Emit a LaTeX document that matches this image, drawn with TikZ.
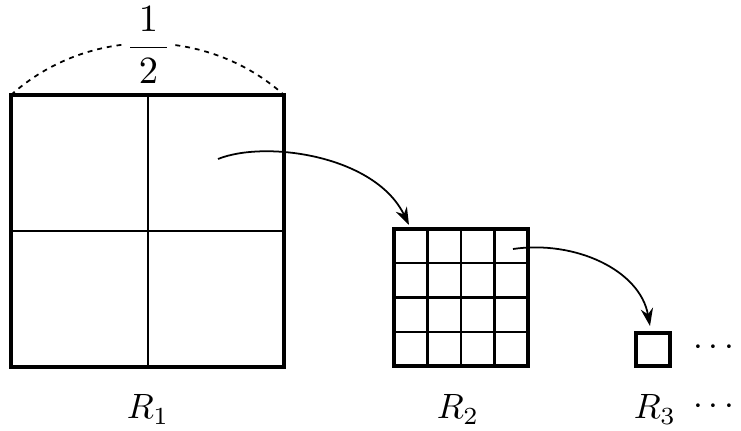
\documentclass[tikz,border=0pt]{standalone}
\usepackage{amsmath}
\usetikzlibrary{arrows.meta}

\begin{document}
\begin{tikzpicture}[x=0.01cm,y=-0.01cm,
  font=\fontsize{10}{12}\selectfont,
  frame/.style={line width=0.9pt},
  gridline/.style={line width=0.6pt},
  hop/.style={-{Stealth[length=5pt,width=3.5pt]},line width=0.5pt},
  halfarc/.style={dash pattern=on 1.4pt off 1.4pt,line width=0.5pt},
  lbl/.style={inner sep=1pt,anchor=base}
]
\useasboundingbox (0,0) rectangle (741,431);
% R1: square split in four
\draw[frame] (11,95) rectangle (284,367);
\draw[gridline] (148,95) -- (148,367) (11,231) -- (284,231);
\coordinate (sideL) at (11,95);
\coordinate (sideR) at (284,95);
\draw[halfarc] (sideL) .. controls (88,26) and (207,26) .. (sideR);
\node[inner sep=0pt,fill=white,font=\fontsize{10.5}{12}\selectfont] (half) at (148.5,45)
  {$\dfrac{\mkern4mu 1\mkern4mu}{2}$};
% R2: 4x4 grid
\draw[frame] (394,229) rectangle (528,366);
\foreach \i in {1,2,3} {
  \draw[gridline] (394+33.5*\i,229) -- (394+33.5*\i,366);
  \draw[gridline] (394,229+34.25*\i) -- (528,229+34.25*\i);
}
% R3
\draw[frame] (636,333) rectangle (670,366);
% arrows
\coordinate (fromR1) at (218,159);
\coordinate (toR2) at (409,225);
\coordinate (fromR2) at (513,249);
\coordinate (toR3) at (650,326);
\draw[hop] (fromR1) .. controls (265,140) and (375,155) .. (toR2);
\draw[hop] (fromR2) .. controls (575,240) and (640,270) .. (toR3);
% labels
\node[lbl] (nameR1) at (148,419) {$R_1$};
\node[lbl] (nameR2) at (458,419) {$R_2$};
\node[lbl] (nameR3) at (655,419) {$R_3$};
\node[inner sep=0pt,anchor=east] (moreA) at (741,348) {$\cdots$};
\node[inner sep=0pt,anchor=east] (moreB) at (741,407) {$\cdots$};
\end{tikzpicture}
\end{document}
